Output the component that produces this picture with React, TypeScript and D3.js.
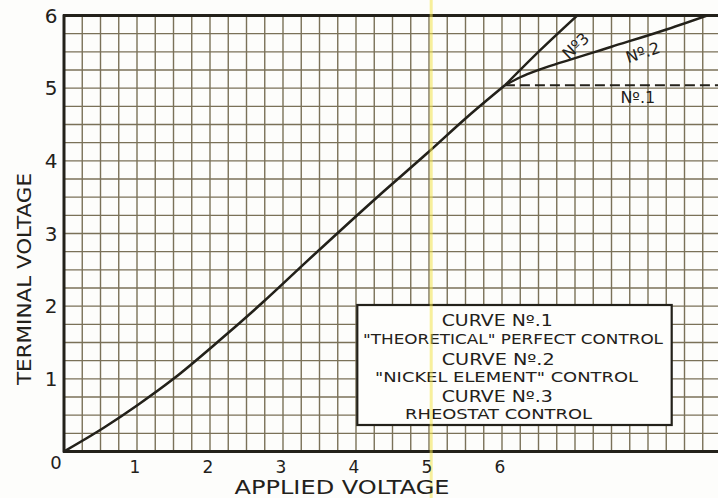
import React from "react";
import * as d3 from "d3";

// ---- data ----
const xTicks = [0, 1, 2, 3, 4, 5, 6];
const yTicks = [0, 1, 2, 3, 4, 5, 6];
const xTickLabels = ["0", "1", "2", "3", "4", "5", "6"];
const yTickLabels = ["0", "1", "2", "3", "4", "5", "6"];

// common curve (applied vs terminal voltage)
const commonApplied = [0, 0.55, 1.01, 1.5, 2.12, 2.72, 3.33, 4.29, 4.97, 5.52, 6.04];
const commonTerminal = [0, 0.33, 0.64, 1.0, 1.52, 2.05, 2.62, 3.5, 4.1, 4.6, 5.04];

// Curve No.1 "theoretical" perfect control (dashed)
const curve1Applied = [6.04, 9.2];
const curve1Terminal = [5.04, 5.04];

// Curve No.2 nickel element control
const curve2Applied = [6.04, 6.25, 6.5, 6.8, 7.5, 8.2, 8.81];
const curve2Terminal = [5.04, 5.15, 5.25, 5.35, 5.57, 5.79, 6.0];

// Curve No.3 rheostat control
const curve3Applied = [6.04, 6.52, 7.03];
const curve3Terminal = [5.04, 5.52, 6.0];

const curveLabels = ["Nº.1", "Nº.2", "Nº3"];
const curveLabelX = [7.86, 7.93, 7.01];
const curveLabelY = [4.87, 5.49, 5.58];
const curveLabelAngle = [0, -18, -44];

const legendLines = [
  "CURVE Nº.1",
  "\"THEORETICAL\" PERFECT CONTROL",
  "CURVE Nº.2",
  "\"NICKEL ELEMENT\" CONTROL",
  "CURVE Nº.3",
  "RHEOSTAT CONTROL",
];

const xTitle = "APPLIED VOLTAGE";
const yTitle = "TERMINAL VOLTAGE";
const foldLineX = 5.03;

// ---- layout ----
const W = 718;
const H = 498;
const FONT = "'DejaVu Sans', 'Liberation Sans', sans-serif";
const INK = "#23211a";
const GRID = "#7a7158";

const legendLayout = [
  { x: 441.7, y: 326, len: 111, size: 16 },
  { x: 363, y: 343.5, len: 300, size: 14.5 },
  { x: 441.7, y: 364.5, len: 113, size: 16 },
  { x: 375, y: 382, len: 263, size: 14.5 },
  { x: 441.7, y: 401.5, len: 111, size: 16 },
  { x: 405, y: 419, len: 187, size: 14.5 },
];

export default function App() {
  const x = d3.scaleLinear().domain([0, 9]).range([64, 721]);
  const y = d3.scaleLinear().domain([0, 6]).range([451.5, 15.5]);

  const line = d3
    .line<[number, number]>()
    .x((d) => x(d[0]))
    .y((d) => y(d[1]))
    .curve(d3.curveMonotoneX);

  const zip = (a: number[], b: number[]) => a.map((v, i) => [v, b[i]] as [number, number]);

  const gridX = d3.range(0, 9.2 + 1e-9, 0.25);
  const gridY = d3.range(0, 6 + 1e-9, 0.25);

  const [x0] = x.range();
  const [y0, y1] = y.range();

  return (
    <svg
      width={W}
      height={H}
      style={{ position: "absolute", left: 0, top: 0, background: "#fff" }}
      fontFamily={FONT}
    >
      <rect x={0} y={0} width={W} height={H} fill="#fdfdfb" />
      <defs>
        <clipPath id="plot">
          <rect x={x0} y={y1} width={W - x0} height={y0 - y1} />
        </clipPath>
      </defs>
      <g clipPath="url(#plot)">
        {gridX.map((v, i) => (
          <line key={"gx" + i} x1={x(v)} x2={x(v)} y1={y0} y2={y1} stroke={GRID} strokeWidth={1.4} />
        ))}
        {gridY.map((v, i) => (
          <line key={"gy" + i} x1={x0} x2={W} y1={y(v)} y2={y(v)} stroke={GRID} strokeWidth={1.4} />
        ))}
      </g>

      {/* axes frame */}
      <line x1={x0} x2={x0} y1={y1 - 1} y2={y0 + 1} stroke={INK} strokeWidth={3} />
      <line x1={x0 - 1} x2={W} y1={y0} y2={y0} stroke={INK} strokeWidth={3} />
      <line x1={x0 - 1} x2={W} y1={y1} y2={y1} stroke={INK} strokeWidth={3} />

      {/* curves */}
      <g clipPath="url(#plot)">
        <path d={line(zip(commonApplied, commonTerminal)) || ""} fill="none" stroke={INK} strokeWidth={2.6} />
        <path d={line(zip(curve2Applied, curve2Terminal)) || ""} fill="none" stroke={INK} strokeWidth={2.4} />
        <path d={line(zip(curve3Applied, curve3Terminal)) || ""} fill="none" stroke={INK} strokeWidth={2.4} />
        <path
          d={line(zip(curve1Applied, curve1Terminal)) || ""}
          fill="none"
          stroke={INK}
          strokeWidth={2.2}
          strokeDasharray="10 5"
        />
      </g>

      {/* curve labels */}
      {curveLabels.map((t, i) => (
        <text
          key={"cl" + i}
          transform={`translate(${x(curveLabelX[i])},${y(curveLabelY[i])}) rotate(${curveLabelAngle[i]})`}
          textAnchor="middle"
          dominantBaseline="central"
          fontSize={16}
          fill={INK}
        >
          {t}
        </text>
      ))}

      {/* legend */}
      <rect x={357.3} y={305} width={314.4} height={120} fill="#fefefc" stroke={INK} strokeWidth={2.2} />
      {legendLines.map((t, i) => (
        <text
          key={"lg" + i}
          x={legendLayout[i].x}
          y={legendLayout[i].y}
          fontSize={legendLayout[i].size}
          textLength={legendLayout[i].len}
          lengthAdjust="spacingAndGlyphs"
          fill={INK}
        >
          {t}
        </text>
      ))}

      {/* fold line from the scan */}
      <rect x={x(foldLineX) - 1.5} y={0} width={3} height={H} fill="#f3e34c" opacity={0.55} />

      {/* tick labels */}
      {yTicks.map((v, i) =>
        i === 0 ? null : (
          <text key={"yt" + i} x={51} y={y(v)} textAnchor="middle" dominantBaseline="central" fontSize={20} fill={INK}>
            {yTickLabels[i]}
          </text>
        )
      )}
      {xTicks.map((v, i) =>
        i === 0 ? (
          <text key={"xt" + i} x={56} y={462} textAnchor="middle" dominantBaseline="central" fontSize={18} fill={INK}>
            {xTickLabels[i]}
          </text>
        ) : (
          <text key={"xt" + i} x={x(v) - 2} y={467} textAnchor="middle" dominantBaseline="central" fontSize={17} fill={INK}>
            {xTickLabels[i]}
          </text>
        )
      )}

      {/* axis titles */}
      <text x={342} y={494} textAnchor="middle" fontSize={19} textLength={215} lengthAdjust="spacingAndGlyphs" fill={INK}>
        {xTitle}
      </text>
      <text
        transform="translate(31,279) rotate(-90)"
        textAnchor="middle"
        fontSize={20}
        textLength={212}
        lengthAdjust="spacingAndGlyphs"
        fill={INK}
      >
        {yTitle}
      </text>
    </svg>
  );
}
